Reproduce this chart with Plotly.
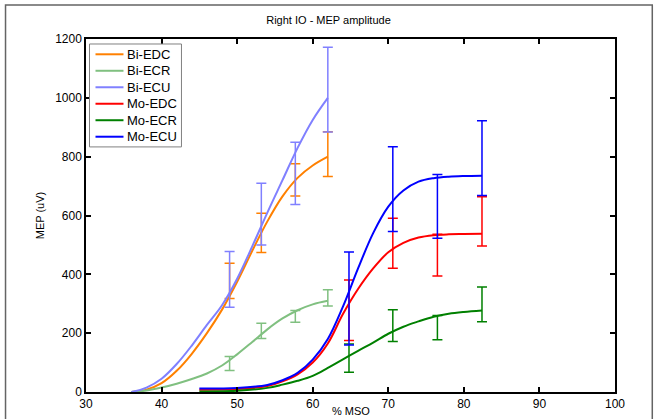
import plotly.graph_objects as go

# ---- data ----
bi_x = [49, 53.2, 57.7, 62]
mo_x = [64.8, 70.6, 76.5, 82.4]

# error bar means and half-widths
bi_edc_mean = [378, 541, 721, 809]
bi_edc_err = [60, 67, 55, 76]
bi_ecr_mean = [97, 208, 257, 320]
bi_ecr_err = [24, 26, 20, 28]
bi_ecu_mean = [383, 605, 743, 1028]
bi_ecu_err = [95, 105, 106, 144]
mo_edc_mean = [278, 506, 465, 580]
mo_edc_err = [103, 85, 71, 84]
mo_ecr_mean = [115, 226, 219, 298]
mo_ecr_err = [48, 54, 41, 59]
mo_ecu_mean = [318, 690, 631, 795]
mo_ecu_err = [158, 144, 108, 127]

# fitted curves
bi_fit_x = [36, 38, 40, 42, 44, 46, 48, 50, 52, 54, 56, 58, 60, 62]
bi_edc_fit = [0, 8, 30, 72, 130, 200, 280, 375, 480, 580, 665, 728, 770, 800]
bi_ecr_fit = [0, 5, 15, 28, 44, 63, 90, 128, 170, 213, 250, 278, 298, 310]
bi_ecu_fit = [0, 15, 45, 95, 158, 228, 295, 385, 495, 610, 720, 830, 925, 1000]

mo_fit_x = [45, 50, 54, 56, 58, 60, 62, 64, 66, 68, 70, 72, 74, 76, 78, 80, 82.4]
mo_edc_fit = [8, 10, 20, 36, 60, 100, 165, 265, 350, 420, 475, 507, 525, 533, 536, 537, 538]
mo_ecr_fit = [2, 4, 14, 25, 38, 55, 82, 111, 140, 168, 198, 222, 240, 256, 266, 272, 277]
mo_ecu_fit = [12, 14, 24, 40, 65, 110, 180, 290, 420, 540, 630, 685, 715, 727, 732, 734, 735]

names = ["Bi-EDC", "Bi-ECR", "Bi-ECU", "Mo-EDC", "Mo-ECR", "Mo-ECU"]
colors = ["rgb(255,128,0)", "rgb(128,192,128)", "rgb(128,128,255)",
          "rgb(255,0,0)", "rgb(0,128,0)", "rgb(0,0,255)"]

series = [
    (bi_fit_x, bi_edc_fit, bi_x, bi_edc_mean, bi_edc_err),
    (bi_fit_x, bi_ecr_fit, bi_x, bi_ecr_mean, bi_ecr_err),
    (bi_fit_x, bi_ecu_fit, bi_x, bi_ecu_mean, bi_ecu_err),
    (mo_fit_x, mo_edc_fit, mo_x, mo_edc_mean, mo_edc_err),
    (mo_fit_x, mo_ecr_fit, mo_x, mo_ecr_mean, mo_ecr_err),
    (mo_fit_x, mo_ecu_fit, mo_x, mo_ecu_mean, mo_ecu_err),
]

fig = go.Figure()
for name, col, (fx, fy, ex, em, ee) in zip(names, colors, series):
    fig.add_trace(go.Scatter(
        x=ex, y=em, mode="markers",
        marker=dict(size=1, color=col, opacity=0),
        error_y=dict(type="data", array=ee, visible=True, color=col,
                     thickness=1.5, width=5),
        showlegend=False, hoverinfo="skip"))
    fig.add_trace(go.Scatter(
        x=fx, y=fy, mode="lines", name=name,
        line=dict(color=col, width=2, shape="spline", smoothing=1.0),
        showlegend=False))

L, R, T, B = 85.5, 42.3, 39, 26.7
PW, PH = 657 - L - R, 419 - T - B


def px(xp):
    return (xp - L) / PW


def py(yp):
    return (419 - B - yp) / PH


# compact MATLAB-style legend box (layout decoration)
shapes = [dict(type="rect", xref="paper", yref="paper",
               x0=px(5), x1=px(652), y0=-0.2, y1=py(5),
               line=dict(color="rgb(100,100,100)", width=1.5), layer="below"),
          dict(type="rect", xref="paper", yref="paper",
               x0=px(89), x1=px(181), y0=py(147), y1=py(44),
               line=dict(color="rgb(128,128,128)", width=1),
               fillcolor="white", layer="above")]
annotations = []
row0, step = 54.3, 16.5
for i, (name, col) in enumerate(zip(names, colors)):
    yy = row0 + i * step
    shapes.append(dict(type="line", xref="paper", yref="paper",
                       x0=px(95), x1=px(123), y0=py(yy), y1=py(yy),
                       line=dict(color=col, width=2), layer="above"))
    annotations.append(dict(xref="paper", yref="paper", x=px(125), y=py(yy),
                            xanchor="left", yanchor="middle", text=name,
                            showarrow=False, font=dict(size=13, color="black")))

# x-axis title, low near the window edge but fully visible
annotations.append(dict(xref="paper", yref="paper", x=0.5, y=py(411.5),
                        xanchor="center", yanchor="middle", text="% MSO",
                        showarrow=False, font=dict(size=11, color="black")))

fig.update_layout(
    width=657, height=419,
    margin=dict(l=L, r=R, t=T, b=B),
    paper_bgcolor="white", plot_bgcolor="white",
    font=dict(family="Liberation Sans, Arial, sans-serif", size=12, color="black"),
    title=dict(text="Right IO - MEP amplitude", x=0.5, xanchor="center",
               y=1 - 20 / 419, yanchor="middle",
               font=dict(size=11, color="black")),
    showlegend=False,
    xaxis=dict(range=[30, 100], dtick=10, showgrid=False, zeroline=False,
               showline=True, linecolor="black", linewidth=1.5, mirror="allticks",
               ticks="inside", ticklen=5, tickcolor="black", tickwidth=1.5,
               automargin=False),
    yaxis=dict(range=[0, 1200], dtick=200, showgrid=False, zeroline=False,
               showline=True, linecolor="black", linewidth=1.5, mirror="allticks",
               ticks="inside", ticklen=5, tickcolor="black", tickwidth=1.5,
               automargin=False,
               title=dict(text="MEP (uV)", standoff=8, font=dict(size=11))),
    shapes=shapes,
    annotations=annotations,
)

fig.write_html("out.html", config={"displayModeBar": False},
               post_script="document.body.style.margin='0px';document.body.style.overflow='hidden';")
